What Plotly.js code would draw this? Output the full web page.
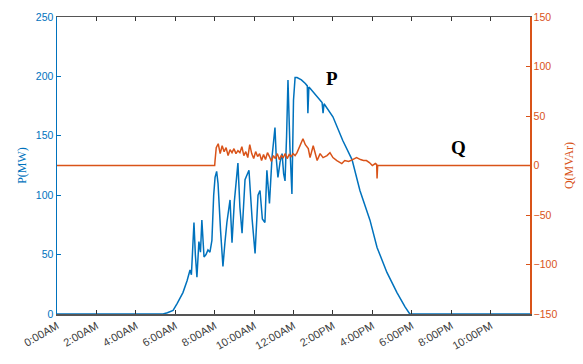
<!DOCTYPE html>
<html>
<head>
<meta charset="utf-8">
<script src="https://cdn.plot.ly/plotly-3.0.1.min.js"></script>
<style>html,body{margin:0;padding:0;background:#fff;}#chart{width:583px;height:364px;}</style>
</head>
<body>
<div id="chart"></div>
<script>
// Hours of day and active power P (MW)
const pHours = [0, 5.38, 5.6, 5.89, 6.1, 6.39, 6.6, 6.75, 6.82, 6.95, 7.02, 7.1, 7.2, 7.28, 7.35, 7.46, 7.56, 7.66, 7.76, 7.86, 7.95, 8.02, 8.1, 8.17, 8.3, 8.42, 8.52, 8.62, 8.78, 8.88, 9.0, 9.18, 9.28, 9.39, 9.54, 9.74, 9.9, 10.05, 10.2, 10.3, 10.42, 10.55, 10.65, 10.78, 10.91, 11.06, 11.13, 11.21, 11.32, 11.42, 11.5, 11.57, 11.65, 11.72, 11.82, 11.92, 12.0, 12.08, 12.18, 12.4, 12.6, 12.7, 12.73, 12.78, 12.84, 13.2, 13.45, 13.5, 13.55, 14.0, 14.5, 14.97, 15.37, 15.88, 16.24, 16.74, 17.25, 17.66, 17.9, 24];
const pValues = [0, 0, 1, 3, 9, 18, 28, 37, 33, 77, 50, 31, 61, 52, 79, 48, 50, 54, 52, 62, 100, 115, 120, 110, 70, 40, 60, 77, 96, 60, 95, 127, 90, 68, 113, 121, 80, 51, 100, 104, 80, 77, 121, 93, 132, 157, 130, 115, 128, 135, 118, 112, 150, 197, 140, 101, 180, 199, 199, 197, 194, 192, 169, 191, 190, 183, 178, 169, 177, 166, 146, 130, 104, 79, 56, 35, 18, 6, 0, 0];

// Hours of day and reactive power Q (MVAr)
const qHours = [0, 8.0, 8.02, 8.08, 8.18, 8.28, 8.38, 8.48, 8.58, 8.68, 8.78, 8.88, 8.98, 9.08, 9.18, 9.28, 9.38, 9.48, 9.58, 9.68, 9.78, 9.88, 9.98, 10.08, 10.18, 10.28, 10.38, 10.48, 10.58, 10.68, 10.78, 10.88, 10.98, 11.08, 11.18, 11.28, 11.38, 11.48, 11.58, 11.68, 11.78, 11.88, 11.98, 12.08, 12.18, 12.3, 12.4, 12.48, 12.6, 12.75, 12.84, 13.0, 13.2, 13.35, 13.5, 13.7, 13.85, 14.0, 14.2, 14.45, 14.6, 14.8, 15.0, 15.2, 15.4, 15.55, 15.7, 15.85, 16.0, 16.15, 16.22, 16.24, 16.27, 24];
const qValues = [0, 0, 5, 18, 22, 12, 20, 14, 18, 10, 16, 13, 17, 12, 15, 13, 19, 10, 14, 8, 21, 12, 7, 14, 9, 12, 5, 11, 6, 13, 9, 4, 10, 7, 12, 6, 10, 8, 12, 7, 11, 9, 12, 10, 13, 18, 22, 27, 21, 17, 8, 20, 5, 12, 8, 10, 13, 8, 5, 2, 5, 4, 6, 8, 6, 5, 5, 3, 0, 2, 1, -13, 0, 0];

const xTickVals = [0, 2, 4, 6, 8, 10, 12, 14, 16, 18, 20, 22];
const xTickText = ["0:00AM", "2:00AM", "4:00AM", "6:00AM", "8:00AM", "10:00AM", "12:00AM", "2:00PM", "4:00PM", "6:00PM", "8:00PM", "10:00PM"];
const pTickVals = [0, 50, 100, 150, 200, 250];
const qTickVals = [-150, -100, -50, 0, 50, 100, 150];

const blue = '#0072BD';
const orange = '#D95319';

const traces = [
  {x: pHours, y: pValues, type: 'scatter', mode: 'lines', line: {color: blue, width: 1.5}, yaxis: 'y', name: 'P'},
  {x: qHours, y: qValues, type: 'scatter', mode: 'lines', line: {color: orange, width: 1.5}, yaxis: 'y2', name: 'Q'}
];

const layout = {
  width: 583, height: 364,
  margin: {l: 57, r: 53, t: 17, b: 50},
  paper_bgcolor: '#fff', plot_bgcolor: '#fff',
  showlegend: false,
  font: {family: 'Liberation Sans, sans-serif', size: 10, color: '#333'},
  xaxis: {
    range: [0, 24], tickvals: xTickVals, ticktext: xTickText, tickangle: -30,
    showgrid: false, zeroline: false, showline: true, linecolor: '#555', linewidth: 1.5,
    mirror: 'ticks', ticks: 'inside', ticklen: 4, tickcolor: '#333',
    tickfont: {size: 11, color: '#404040'}
  },
  yaxis: {
    range: [0, 250], tickvals: pTickVals, showgrid: false, zeroline: false,
    showline: true, linecolor: blue, linewidth: 1.5, ticks: 'inside', ticklen: 4, tickcolor: blue,
    tickfont: {size: 10.5, color: blue},
    title: {text: 'P(MW)', font: {family: 'Liberation Serif, serif', size: 12, color: blue}, standoff: 6}
  },
  yaxis2: {
    range: [-150, 150], tickvals: qTickVals, overlaying: 'y', side: 'right', showgrid: false, zeroline: false,
    showline: true, linecolor: orange, linewidth: 1.5, ticks: 'inside', ticklen: 4, tickcolor: orange,
    tickfont: {size: 10.5, color: orange},
    title: {text: 'Q(MVAr)', font: {family: 'Liberation Serif, serif', size: 12, color: orange}, standoff: 8}
  },
  annotations: [
    {x: 13.95, y: 198, xref: 'x', yref: 'y', text: '<b>P</b>', showarrow: false, font: {family: 'Liberation Serif, serif', size: 19, color: '#000'}},
    {x: 20.35, y: 140, xref: 'x', yref: 'y', text: '<b>Q</b>', showarrow: false, font: {family: 'Liberation Serif, serif', size: 19, color: '#000'}}
  ]
};

Plotly.newPlot('chart', traces, layout, {displayModeBar: false, staticPlot: true});
</script>
</body>
</html>
